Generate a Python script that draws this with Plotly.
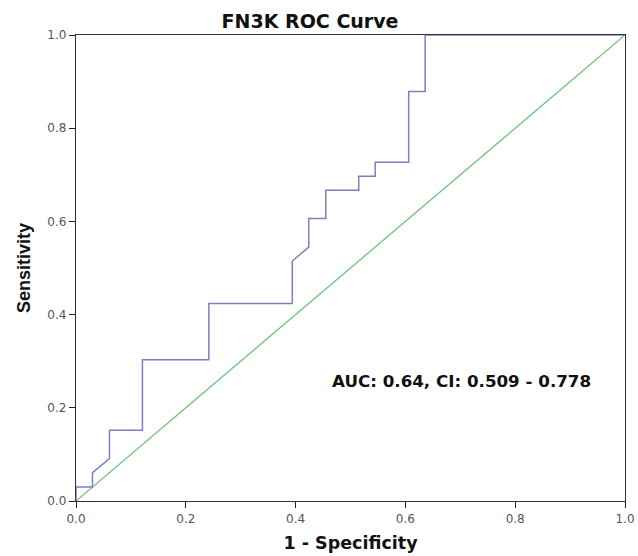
import plotly.graph_objects as go

# ROC curve points (1 - specificity, sensitivity)
fpr = [0.0, 0.0, 0.030, 0.030, 0.061, 0.061, 0.121, 0.121, 0.242, 0.242, 0.394, 0.394,
       0.424, 0.424, 0.455, 0.455, 0.515, 0.515, 0.545, 0.545, 0.606, 0.606, 0.636, 0.636, 1.0]
tpr = [0.0, 0.030, 0.030, 0.061, 0.091, 0.152, 0.152, 0.303, 0.303, 0.424, 0.424, 0.515,
       0.545, 0.606, 0.606, 0.667, 0.667, 0.697, 0.697, 0.727, 0.727, 0.879, 0.879, 1.0, 1.0]
ref_x = [0.0, 1.0]
ref_y = [0.0, 1.0]
tick_vals = [0.0, 0.2, 0.4, 0.6, 0.8, 1.0]
tick_text = ["0.0", "0.2", "0.4", "0.6", "0.8", "1.0"]
title_text = "FN3K ROC Curve"
auc_text = "AUC: 0.64, CI: 0.509 - 0.778"

WIDE = "DejaVu Sans, Verdana, sans-serif"
ARIAL = "Liberation Sans, Arial, sans-serif"

fig = go.Figure()
fig.add_trace(go.Scatter(x=ref_x, y=ref_y, mode="lines",
                         line=dict(color="#6cc47a", width=1.3), showlegend=False))
fig.add_trace(go.Scatter(x=fpr, y=tpr, mode="lines",
                         line=dict(color="#7c80c0", width=1.5), showlegend=False))

axis_common = dict(range=[0, 1], tickvals=tick_vals, ticktext=tick_text,
                   showgrid=False, zeroline=False, showline=True, mirror=True,
                   linecolor="#333333", linewidth=1.3, ticks="outside", ticklen=6,
                   tickcolor="#222222", automargin=False,
                   tickfont=dict(family=WIDE, size=12, color="#555555"))

fig.update_layout(
    width=638, height=556,
    margin=dict(l=76, r=13, t=35, b=55),
    paper_bgcolor="white", plot_bgcolor="white",
    title=dict(text="<b>" + title_text + "</b>", x=0.486, xanchor="center",
               y=0.962, yanchor="middle",
               font=dict(family=WIDE, size=19, color="#111111")),
    xaxis=dict(title=dict(text="<b>1 - Specificity</b>", standoff=12,
                          font=dict(family=WIDE, size=17.5, color="#111111")),
               **axis_common),
    yaxis=dict(title=dict(text="<b>Sensitivity</b>", standoff=12,
                          font=dict(family=ARIAL, size=18, color="#111111")),
               **axis_common),
    annotations=[dict(x=0.462, y=0.258, xref="x", yref="y", xanchor="left", yanchor="middle",
                      text="<b>" + auc_text + "</b>", showarrow=False,
                      font=dict(family=WIDE, size=16.7, color="#111111"))],
)

fig.write_html("out.html", config={"displayModeBar": False},
               post_script="document.body.style.margin='0';")
